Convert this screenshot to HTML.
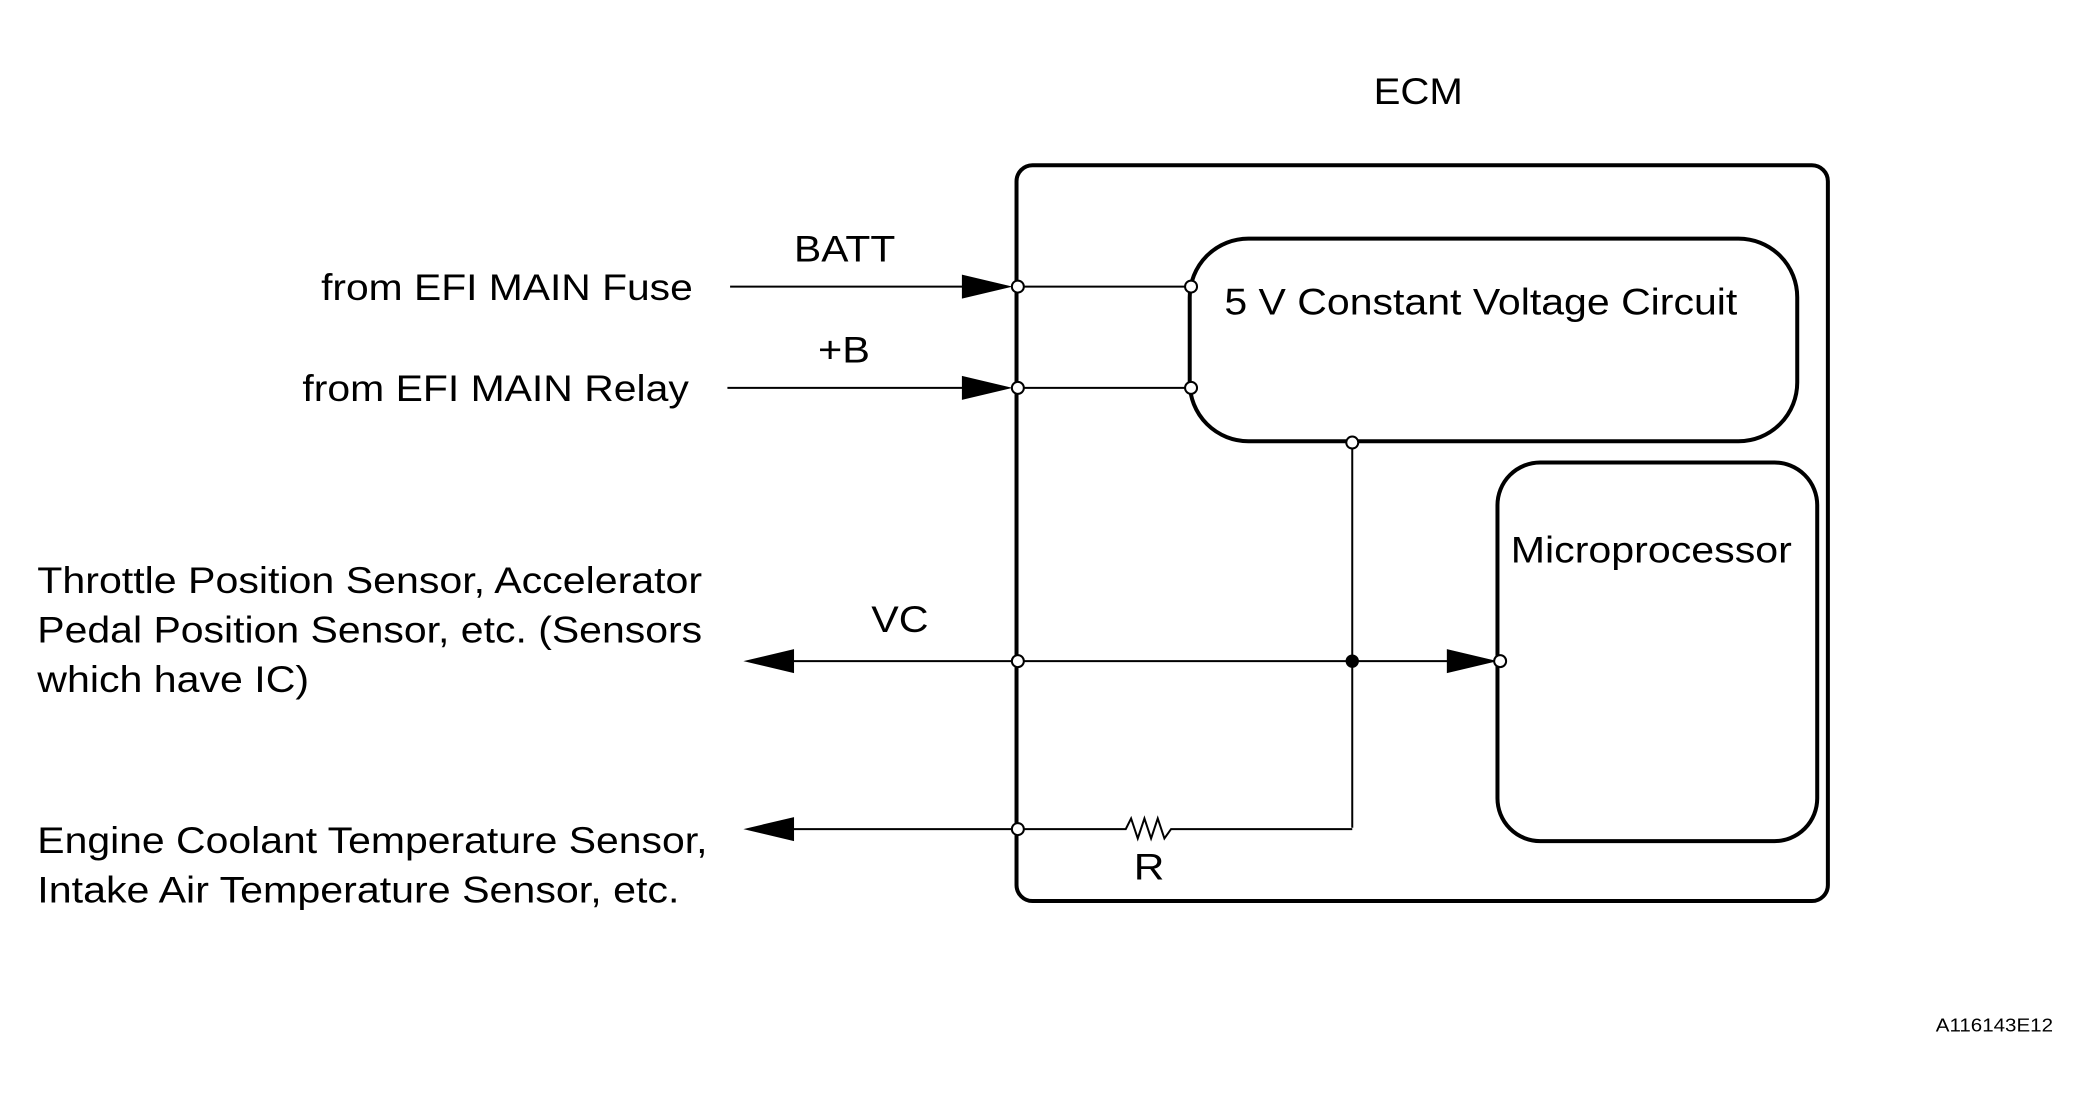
<!DOCTYPE html>
<html><head><style>
html,body{margin:0;padding:0;background:#fff;}
svg{display:block;}
text{font-family:"Liberation Sans",Arial,sans-serif;fill:#000;}
</style></head><body>
<svg width="2089" height="1105" viewBox="0 0 1568 829" preserveAspectRatio="none" xmlns="http://www.w3.org/2000/svg">
<g fill="none" stroke="#000">
<rect x="763" y="124" width="609" height="552" rx="12" stroke-width="3"/>
<rect x="893" y="179" width="456" height="152" rx="44" stroke-width="3"/>
<rect x="1124" y="347" width="240" height="284" rx="32" stroke-width="3"/>
<g stroke-width="1.5">
<line x1="548" y1="215" x2="730" y2="215"/>
<line x1="546" y1="291" x2="730" y2="291"/>
<line x1="763" y1="215" x2="893" y2="215"/>
<line x1="763" y1="291" x2="893" y2="291"/>
<line x1="590" y1="496" x2="1090" y2="496"/>
<line x1="1015" y1="331" x2="1015" y2="621"/>
<polyline points="590,622 845,622 849,614 854,629 859,614 864,629 869,614 874,629 879,622 1015,622"/>
</g>
</g>
<g fill="#000">
<polygon points="722,206 760,215 722,224"/>
<polygon points="722,282 760,291 722,300"/>
<polygon points="558,496 596,487 596,505"/>
<polygon points="558,622 596,613 596,631"/>
<polygon points="1086,487 1124,496 1086,505"/>
<circle cx="1015" cy="496" r="5"/>
</g>
<g fill="#fff" stroke="#000" stroke-width="1.5">
<circle cx="764" cy="215" r="4.5"/><circle cx="764" cy="291" r="4.5"/>
<circle cx="764" cy="496" r="4.5"/><circle cx="764" cy="622" r="4.5"/>
<circle cx="894" cy="215" r="4.5"/><circle cx="894" cy="291" r="4.5"/>
<circle cx="1015" cy="332" r="4.5"/><circle cx="1126" cy="496" r="4.5"/>
</g>
<g font-size="28" lengthAdjust="spacingAndGlyphs">
<text x="1031" y="78" textLength="67" lengthAdjust="spacingAndGlyphs">ECM</text>
<text x="596" y="196" textLength="76" lengthAdjust="spacingAndGlyphs">BATT</text>
<text x="614" y="272" textLength="39" lengthAdjust="spacingAndGlyphs">+B</text>
<text x="654" y="474" textLength="43" lengthAdjust="spacingAndGlyphs">VC</text>
<text x="851" y="660" textLength="23" lengthAdjust="spacingAndGlyphs">R</text>
<text x="241" y="225" textLength="279" lengthAdjust="spacingAndGlyphs">from EFI MAIN Fuse</text>
<text x="227" y="301" textLength="290" lengthAdjust="spacingAndGlyphs">from EFI MAIN Relay</text>
<text x="919" y="236" textLength="385" lengthAdjust="spacingAndGlyphs">5 V Constant Voltage Circuit</text>
<text x="1134" y="422" textLength="211" lengthAdjust="spacingAndGlyphs">Microprocessor</text>
<text x="28" y="445" textLength="499" lengthAdjust="spacingAndGlyphs">Throttle Position Sensor, Accelerator</text>
<text x="28" y="482" textLength="499" lengthAdjust="spacingAndGlyphs">Pedal Position Sensor, etc. (Sensors</text>
<text x="28" y="519" textLength="204" lengthAdjust="spacingAndGlyphs">which have IC)</text>
<text x="28" y="640" textLength="503" lengthAdjust="spacingAndGlyphs">Engine Coolant Temperature Sensor,</text>
<text x="28" y="677" textLength="482" lengthAdjust="spacingAndGlyphs">Intake Air Temperature Sensor, etc.</text>
</g>
<text x="1453" y="774" font-size="14" textLength="88" lengthAdjust="spacingAndGlyphs">A116143E12</text>
</svg>
</body></html>
